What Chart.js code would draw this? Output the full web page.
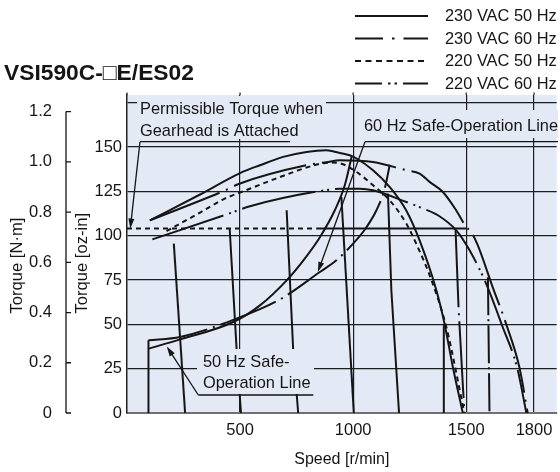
<!DOCTYPE html>
<html><head><meta charset="utf-8">
<script src="https://cdn.jsdelivr.net/npm/chart.js@4.4.1/dist/chart.umd.min.js"></script>
<style>html,body{margin:0;padding:0;background:#fff}#wrap{width:560px;height:472px}</style>
</head><body><div id="wrap"><canvas id="c" width="560" height="472"></canvas></div>
<script>
const FONT = '"Liberation Sans", Arial, sans-serif';
const INK = '#151515';
const BG = '#e3e9f5';

// ---- data (speed r/min, torque oz-in) ----
const seriesNames = ['230 VAC 50 Hz', '230 VAC 60 Hz', '220 VAC 50 Hz', '220 VAC 60 Hz'];

const speed230v50 = [101, 323, 500, 588, 691, 794, 882, 941, 985, 1015, 1088, 1162, 1235, 1294, 1368, 1404, 1441, 1485];
const torque230v50 = [108.6, 123.2, 135.3, 139.7, 144.4, 147.2, 148.1, 146.6, 145.3, 143.5, 136.9, 127.4, 114.2, 97.3, 69.2, 50.4, 25.9, 0];

const speed230v60 = [101, 428, 500, 794, 882, 941, 1088, 1235, 1294, 1338, 1397, 1456, 1500, 1522, 1551, 1617, 1676, 1735, 1772];
const torque230v60 = [108.6, 125.2, 129.4, 139.7, 141.4, 142.5, 141.5, 136.9, 135, 130.3, 124.6, 114.2, 104.9, 102.1, 94.6, 71, 50.4, 25.9, 0];

const speed220v50 = [175, 323, 426, 514, 676, 823, 897, 941, 1015, 1088, 1162, 1235, 1279, 1347, 1412, 1492];
const torque220v50 = [102.6, 113, 120.5, 125, 133, 139.5, 141.2, 140.8, 135.9, 128.4, 119.9, 106.8, 95.5, 74.7, 48.5, 0];

const speed220v60 = [112, 450, 544, 897, 941, 1029, 1088, 1235, 1309, 1375, 1456, 1515, 1588, 1660, 1726, 1766];
const torque220v60 = [97.9, 112.4, 116.6, 126, 126.5, 126.5, 125.6, 119, 115.3, 111.5, 103, 91.7, 73, 48.9, 25.2, 0];

// permissible torque with gearhead
const permSpeedDashed = [0, 838];
const permSpeedSolid = [838, 1500];
const permTorque = [104, 104];

// safe-operation lines
const safeVertSpeed = [95, 95];
const safeVertTorque = [0, 41];
const safe50Speed = [95, 235, 470, 588, 706, 787, 853, 919, 963, 994];
const safe50Torque = [36.3, 41.5, 51.3, 60.7, 74.8, 87.2, 99.1, 114.3, 128.4, 144.8];
const safe60Speed = [95, 235, 485, 676, 853, 926, 1000, 1056, 1103, 1140, 1162];
const safe60Torque = [41, 42.9, 53.2, 64, 79.5, 86.1, 95.5, 104.2, 114.3, 126.7, 140];

// speed-setting lines
const loadSolidSpeed = [[207, 257], [454, 485, 504], [706, 735, 757], [948, 1003], [1154, 1169, 1203], [1401, 1401]];
const loadSolidTorque = [[95.5, 0], [104, 35.4, 0], [114.3, 35.4, 0], [121.8, 0], [123.7, 69.2, 0], [49.5, 0]];
const loadDashSpeed = [[1453, 1466, 1492], [1596, 1603]];
const loadDashTorque = [[103, 59.8, 0], [76.5, 0]];

// ticks
const xTicks = [500, 1000, 1500, 1800];
const ozTicks = [0, 25, 50, 75, 100, 125, 150, 175];
const ozLabels = ['0', '25', '50', '75', '100', '125', '150', ''];
const nmTicks = [0, 0.2, 0.4, 0.6, 0.8, 1.0, 1.2];
const nmLabels = ['0', '0.2', '0.4', '0.6', '0.8', '1.0', '1.2'];
const OZ_PER_NM = 141.612;
const OZ_MAX = 179.3;

// ---- styles ----
const DASH = [5, 4];
const DASHDOT = [75, 7, 2, 7];
const DASHDOTDOT = [75, 6, 2, 4, 2, 6];
const legendDash = [[], [28, 9, 2.5, 9], [6, 4.5], [27, 6, 2.5, 4, 2.5, 6]];

function mk(xs, ys, dash, extra) {
  return Object.assign({
    data: xs.map((x, i) => ({x: x, y: ys[i]})),
    borderColor: INK, borderWidth: 2, borderDash: dash, pointRadius: 0, fill: false,
    cubicInterpolationMode: 'monotone'
  }, extra || {});
}
const STRAIGHT = {tension: 0, cubicInterpolationMode: 'default'};

const datasets = [
  mk(speed230v50, torque230v50, []),
  mk(speed230v60, torque230v60, DASHDOT),
  mk(speed220v50, torque220v50, DASH),
  mk(speed220v60, torque220v60, DASHDOTDOT),
  mk(permSpeedDashed, permTorque, DASH, STRAIGHT),
  mk(permSpeedSolid, permTorque, [], STRAIGHT),
  mk(safeVertSpeed, safeVertTorque, [], STRAIGHT),
  mk(safe50Speed, safe50Torque, []),
  mk(safe60Speed, safe60Torque, [60, 6, 2, 6]),
];
loadSolidSpeed.forEach((xs, i) => datasets.push(mk(xs, loadSolidTorque[i], [], STRAIGHT)));
loadDashSpeed.forEach((xs, i) => datasets.push(mk(xs, loadDashTorque[i], i === 0 ? [77, 6, 2, 6] : [38, 4, 2, 4], STRAIGHT)));

function arrow(ctx, x0, y0, x1, y1) {
  const a = Math.atan2(y1 - y0, x1 - x0), L = 10, W = 3;
  ctx.beginPath(); ctx.moveTo(x0, y0);
  ctx.lineTo(x1 - L * 0.7 * Math.cos(a), y1 - L * 0.7 * Math.sin(a)); ctx.stroke();
  ctx.beginPath(); ctx.moveTo(x1, y1);
  ctx.lineTo(x1 - L * Math.cos(a) + W * Math.sin(a), y1 - L * Math.sin(a) - W * Math.cos(a));
  ctx.lineTo(x1 - L * Math.cos(a) - W * Math.sin(a), y1 - L * Math.sin(a) + W * Math.cos(a));
  ctx.closePath(); ctx.fill();
}

const bgPlugin = {
  id: 'bg',
  beforeDraw(chart) {
    const {ctx, chartArea: a} = chart;
    ctx.save(); ctx.fillStyle = BG;
    ctx.fillRect(a.left, a.top, a.right - a.left, a.bottom - a.top);
    ctx.restore();
  }
};

const annotPlugin = {
  id: 'annot',
  afterDatasetsDraw(chart) {
    const {ctx, scales: {x, y}, chartArea: a} = chart;
    const P = (vx, vy) => [x.getPixelForValue(vx), y.getPixelForValue(vy)];
    ctx.save();
    // grid lines poke slightly above the plot top
    ctx.strokeStyle = '#1e1e1e'; ctx.lineWidth = 1.2;
    ctx.beginPath();
    [0].concat(xTicks).forEach(v => { const px = x.getPixelForValue(v); ctx.moveTo(px, a.top - 2.5); ctx.lineTo(px, a.top); });
    ctx.stroke();
    ctx.fillStyle = BG;
    ctx.fillRect(137, 96, 189, 43);
    ctx.fillRect(361, 110, 197, 28);
    ctx.fillRect(197, 349, 117, 45);
    ctx.fillStyle = INK; ctx.strokeStyle = INK; ctx.lineWidth = 1.3; ctx.setLineDash([]);
    ctx.font = '16.4px ' + FONT; ctx.textAlign = 'left'; ctx.textBaseline = 'middle';
    ctx.fillText('Permissible Torque when', 140, 109);
    ctx.fillText('Gearhead is Attached', 140, 131);
    ctx.fillText('60 Hz Safe-Operation Line', 364, 126);
    ctx.fillText('50 Hz Safe-', 203, 362);
    ctx.fillText('Operation Line', 203, 383);
    ctx.beginPath(); ctx.moveTo(140, 141.7); ctx.lineTo(290, 141.7);
    ctx.moveTo(365, 141.7); ctx.lineTo(558, 141.7);
    ctx.moveTo(198.3, 395); ctx.lineTo(313.3, 395); ctx.stroke();
    let t = P(14.5, 104); arrow(ctx, 140, 141.7, t[0], t[1]);
    t = P(844, 79.5); arrow(ctx, 365, 141.7, t[0], t[1]);
    t = P(176, 37.5); arrow(ctx, 198.3, 395, t[0], t[1]);
    ctx.restore();
  },
  afterDraw(chart) {
    const {ctx, scales: {y2}} = chart;
    ctx.save();
    const ax = y2.right;
    ctx.strokeStyle = INK; ctx.lineWidth = 1.3;
    ctx.beginPath();
    ctx.moveTo(ax, y2.getPixelForValue(1.2)); ctx.lineTo(ax, y2.getPixelForValue(0));
    nmTicks.forEach(v => { const py = y2.getPixelForValue(v); ctx.moveTo(ax, py); ctx.lineTo(ax + 5, py); });
    ctx.stroke();
    const title = 'VSI590C-\u25A1E/ES02';
    ctx.fillStyle = INK; ctx.textBaseline = 'middle'; ctx.textAlign = 'left';
    ctx.font = 'bold 22px ' + FONT;
    const w = ctx.measureText(title).width;
    ctx.font = 'bold ' + (22 * 190 / w).toFixed(2) + 'px ' + FONT;
    ctx.fillText(title, 4, 74);
    ctx.font = '16.4px ' + FONT;
    seriesNames.forEach((name, i) => {
      const ly = 16 + i * 22.5;
      ctx.setLineDash(legendDash[i]); ctx.lineWidth = 2;
      ctx.beginPath(); ctx.moveTo(355, ly); ctx.lineTo(428, ly); ctx.stroke();
      ctx.setLineDash([]);
      ctx.fillText(name, 445, ly + 0.5);
    });
    ctx.restore();
  }
};

Chart.defaults.font.family = FONT;
Chart.defaults.color = INK;

new Chart(document.getElementById('c'), {
  type: 'line',
  data: {datasets: datasets},
  options: {
    responsive: false, animation: false, events: [],
    layout: {padding: {top: 95, right: 2, left: 0, bottom: 0}},
    plugins: {legend: {display: false}, tooltip: {enabled: false}},
    scales: {
      x: {
        type: 'linear', min: 0, max: 1900, position: 'bottom',
        afterBuildTicks: s => { s.ticks = xTicks.map(v => ({value: v})); },
        afterFit: s => { s.height = 59; },
        grid: {color: '#1e1e1e', lineWidth: 1.2, drawTicks: false},
        border: {display: true, color: '#707070', width: 2},
        ticks: {padding: 7.5, font: {size: 16.5}, color: INK, maxRotation: 0, callback: v => String(v)},
        title: {display: true, text: 'Speed [r/min]', font: {size: 16}, color: INK, padding: {top: 0, bottom: 2.5}}
      },
      y: {
        type: 'linear', position: 'left', min: 0, max: OZ_MAX, weight: 0,
        afterBuildTicks: s => { s.ticks = ozTicks.map(v => ({value: v})); },
        afterFit: s => { s.width = 61; },
        grid: {color: c => (c.tick && c.tick.value === 0) ? 'rgba(0,0,0,0)' : '#1e1e1e', lineWidth: 1.2, drawTicks: false},
        border: {display: true, color: '#222', width: 1.5},
        ticks: {padding: 5, font: {size: 16.5}, color: INK, callback: (v, i) => ozLabels[i]},
        title: {display: true, text: 'Torque [oz-in]    ', font: {size: 16.6}, color: INK, padding: {top: 6.3, bottom: 0}}
      },
      y2: {
        type: 'linear', position: 'left', min: 0, max: OZ_MAX / OZ_PER_NM, weight: 10,
        afterBuildTicks: s => { s.ticks = nmTicks.map(v => ({value: v})); },
        afterFit: s => { s.width = 66; },
        grid: {display: false, drawOnChartArea: false},
        border: {display: false},
        ticks: {padding: 6, font: {size: 16.5}, color: INK, callback: (v, i) => nmLabels[i]},
        title: {display: true, text: 'Torque [N\u00B7m]     ', font: {size: 16.6}, color: INK, padding: {top: 7.3, bottom: 0}}
      }
    }
  },
  plugins: [bgPlugin, annotPlugin]
});
</script>
</body></html>
